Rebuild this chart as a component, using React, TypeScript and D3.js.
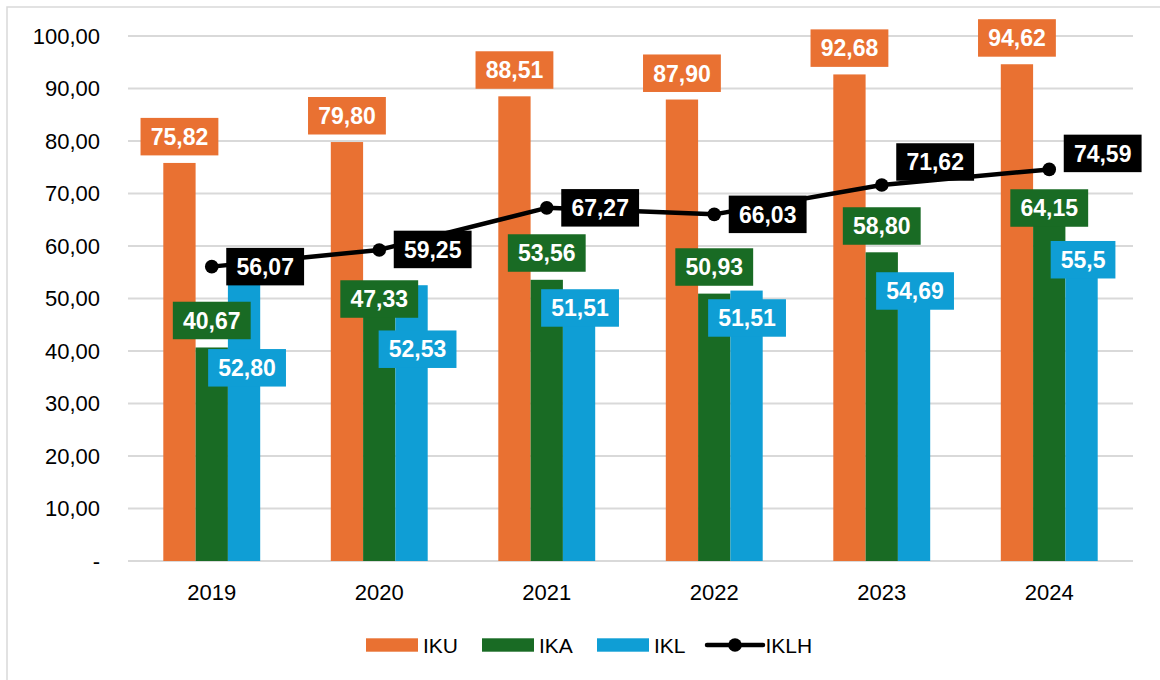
import React from "react";
import * as d3 from "d3";

// ---- data ----
const categories = ["2019", "2020", "2021", "2022", "2023", "2024"];
const iku = [75.82, 79.8, 88.51, 87.9, 92.68, 94.62];
const ika = [40.67, 47.33, 53.56, 50.93, 58.8, 64.15];
const ikl = [52.8, 52.53, 51.51, 51.51, 54.69, 55.5];
const iklh = [56.07, 59.25, 67.27, 66.03, 71.62, 74.59];
const iklDecimals = [2, 2, 2, 2, 2, 1];
const yTicks = [0, 10, 20, 30, 40, 50, 60, 70, 80, 90, 100];
const seriesNames = ["IKU", "IKA", "IKL", "IKLH"];

// ---- layout (label nudges, px) ----
const ikuLabelDy = [-26.3, -26.3, -26.3, -26.3, -26.3, -26.3];
const ikaLabelDy = [-27, -13.5, -26.8, -26.6, -26.3, -16.2];
const iklLabelDy = [84, 64, 17.4, 27.4, 17.1, -9.9];
const iklLabelDx = [3, 6, 1, 0.5, 1, 1.5];
const iklhLabelDy = [0, -0.5, 0, 0, -23, -16];

const COLORS = { IKU: "#E97132", IKA: "#196B24", IKL: "#0F9ED5", IKLH: "#000000" };
const FONT = "'Liberation Sans', Arial, Helvetica, sans-serif";

const W = 1160;
const H = 680;

const locale = d3.formatLocale({ decimal: ",", thousands: ".", grouping: [3], currency: ["Rp", ""] });
const fmt = (v: number, d = 2) => locale.format(`.${d}f`)(v);

function textW(s: string, size: number) {
  let w = 0;
  for (const c of s) w += c === "," ? 0.278 : 0.57;
  return w * size;
}

function Label({ cx, cy, text, color, left }: { cx: number; cy: number; text: string; color: string; left?: number }) {
  const fs = 23;
  const bw = textW(text, fs) + 19;
  const bh = 37.5;
  const x0 = left !== undefined ? left : cx - bw / 2;
  return (
    <g>
      <rect x={x0} y={cy - bh / 2} width={bw} height={bh} fill={color} />
      <text
        x={x0 + bw / 2}
        y={cy}
        dy="0.36em"
        textAnchor="middle"
        fill="#fff"
        fontWeight="bold"
        fontSize={fs}
        fontFamily={FONT}
      >
        {text}
      </text>
    </g>
  );
}

export default function App() {
  const x = d3.scaleBand<string>().domain(categories).range([128, 1133]).paddingInner(0).paddingOuter(0);
  const y = d3.scaleLinear().domain([0, 100]).range([561, 36]);
  const bw = x.bandwidth();
  const barW = 32.3;
  const x1 = d3
    .scaleBand<string>()
    .domain(["IKU", "IKA", "IKL"])
    .range([bw / 2 - 1.5 * barW, bw / 2 + 1.5 * barW])
    .padding(0);

  const cx = (c: string) => (x(c) as number) + bw / 2;
  const line = d3
    .line<number>()
    .x((_, i) => cx(categories[i]))
    .y((d) => y(d));

  const barSeries: [string, number[]][] = [
    ["IKU", iku],
    ["IKA", ika],
    ["IKL", ikl],
  ];

  // legend layout
  const legY = 645;
  const legItems = [
    { name: seriesNames[0], x: 366 },
    { name: seriesNames[1], x: 482 },
    { name: seriesNames[2], x: 597 },
    { name: seriesNames[3], x: 707 },
  ];

  return (
    <svg
      width={W}
      height={H}
      style={{ position: "absolute", left: 0, top: 0, background: "#fff" }}
    >
      <rect x={7} y={7} width={W} height={H} fill="#fff" stroke="#d9d9d9" strokeWidth={1.5} />

      {/* gridlines */}
      {yTicks.map((t) => (
        <line key={t} x1={128} x2={1133} y1={y(t)} y2={y(t)} stroke="#d9d9d9" strokeWidth={t === 0 ? 2.2 : 1.8} />
      ))}
      {/* y tick labels */}
      {yTicks.map((t) => (
        <text
          key={"l" + t}
          x={100}
          y={y(t)}
          dy="0.36em"
          textAnchor="end"
          fontSize={22}
          fontFamily={FONT}
          fill="#000"
        >
          {t === 0 ? "-" : fmt(t)}
        </text>
      ))}
      {/* x tick labels */}
      {categories.map((c) => (
        <text key={c} x={cx(c)} y={592} dy="0.36em" textAnchor="middle" fontSize={22} fontFamily={FONT} fill="#000">
          {c}
        </text>
      ))}

      {/* bars */}
      {barSeries.map(([name, vals]) =>
        vals.map((v, i) => (
          <rect
            key={name + i}
            x={(x(categories[i]) as number) + (x1(name) as number)}
            y={y(v)}
            width={x1.bandwidth()}
            height={y(0) - y(v)}
            fill={COLORS[name as keyof typeof COLORS]}
          />
        ))
      )}

      {/* line */}
      <path d={line(iklh) || ""} fill="none" stroke="#000" strokeWidth={4.5} strokeLinejoin="round" />
      {iklh.map((v, i) => (
        <circle key={"c" + i} cx={cx(categories[i])} cy={y(v)} r={6.8} fill="#000" />
      ))}

      {/* labels */}
      {iku.map((v, i) => (
        <Label
          key={"liku" + i}
          cx={(x(categories[i]) as number) + (x1("IKU") as number) + x1.bandwidth() / 2}
          cy={y(v) + ikuLabelDy[i]}
          text={fmt(v)}
          color={COLORS.IKU}
        />
      ))}
      {ika.map((v, i) => (
        <Label
          key={"lika" + i}
          cx={(x(categories[i]) as number) + (x1("IKA") as number) + x1.bandwidth() / 2}
          cy={y(v) + ikaLabelDy[i]}
          text={fmt(v)}
          color={COLORS.IKA}
        />
      ))}
      {ikl.map((v, i) => (
        <Label
          key={"likl" + i}
          cx={(x(categories[i]) as number) + (x1("IKL") as number) + x1.bandwidth() / 2 + iklLabelDx[i]}
          cy={y(v) + iklLabelDy[i]}
          text={fmt(v, iklDecimals[i])}
          color={COLORS.IKL}
        />
      ))}
      {iklh.map((v, i) => (
        <Label
          key={"liklh" + i}
          cx={0}
          left={cx(categories[i]) + 14.5}
          cy={y(v) + iklhLabelDy[i]}
          text={fmt(v)}
          color={COLORS.IKLH}
        />
      ))}

      {/* legend */}
      {legItems.map((it, k) => (
        <g key={it.name}>
          {k < 3 ? (
            <rect x={it.x} y={legY - 6.7} width={52} height={13.4} fill={COLORS[it.name as keyof typeof COLORS]} />
          ) : (
            <g>
              <line x1={it.x} x2={it.x + 56} y1={legY} y2={legY} stroke="#000" strokeWidth={4.5} strokeLinecap="round" />
              <circle cx={it.x + 28} cy={legY} r={6.8} fill="#000" />
            </g>
          )}
          <text
            x={it.x + (k < 3 ? 57 : 58.5)}
            y={legY}
            dy="0.36em"
            fontSize={21}
            fontFamily={FONT}
            fill="#000"
          >
            {it.name}
          </text>
        </g>
      ))}
    </svg>
  );
}
